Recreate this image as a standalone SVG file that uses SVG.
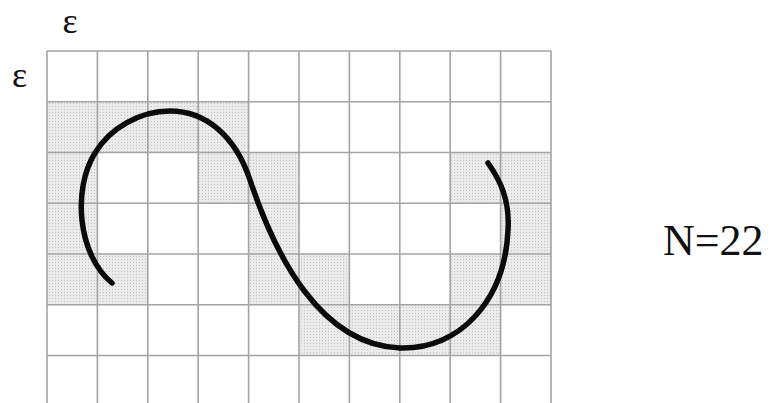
<svg xmlns="http://www.w3.org/2000/svg" width="770" height="403" viewBox="0 0 770 403">
<style>
.cell{fill:url(#dots)}
.grid{stroke:#a4a4a4;stroke-width:1.6;fill:none}
.lbl{font-family:"Liberation Serif","DejaVu Serif",serif;fill:#111}
.curve{fill:none;stroke:#0a0a0a;stroke-width:5.5;stroke-linecap:round}
</style>
<defs>
<pattern id="dots" width="3" height="3" patternUnits="userSpaceOnUse">
<rect width="3" height="3" fill="#ebebeb"/>
<rect x="1" y="1" width="1" height="1" fill="#c4c4c4"/>
</pattern>
</defs>
<rect width="770" height="403" fill="#fff"/>
<g id="shaded">
<rect class="cell" x="47" y="101.75" width="50.4" height="50.75"/>
<rect class="cell" x="97.4" y="101.75" width="50.4" height="50.75"/>
<rect class="cell" x="147.8" y="101.75" width="50.4" height="50.75"/>
<rect class="cell" x="198.2" y="101.75" width="50.4" height="50.75"/>
<rect class="cell" x="47" y="152.5" width="50.4" height="50.75"/>
<rect class="cell" x="198.2" y="152.5" width="50.4" height="50.75"/>
<rect class="cell" x="248.6" y="152.5" width="50.4" height="50.75"/>
<rect class="cell" x="450.2" y="152.5" width="50.4" height="50.75"/>
<rect class="cell" x="500.6" y="152.5" width="50.4" height="50.75"/>
<rect class="cell" x="47" y="203.25" width="50.4" height="50.75"/>
<rect class="cell" x="248.6" y="203.25" width="50.4" height="50.75"/>
<rect class="cell" x="500.6" y="203.25" width="50.4" height="50.75"/>
<rect class="cell" x="47" y="254" width="50.4" height="50.75"/>
<rect class="cell" x="97.4" y="254" width="50.4" height="50.75"/>
<rect class="cell" x="248.6" y="254" width="50.4" height="50.75"/>
<rect class="cell" x="299" y="254" width="50.4" height="50.75"/>
<rect class="cell" x="450.2" y="254" width="50.4" height="50.75"/>
<rect class="cell" x="500.6" y="254" width="50.4" height="50.75"/>
<rect class="cell" x="299" y="304.75" width="50.4" height="50.75"/>
<rect class="cell" x="349.4" y="304.75" width="50.4" height="50.75"/>
<rect class="cell" x="399.8" y="304.75" width="50.4" height="50.75"/>
<rect class="cell" x="450.2" y="304.75" width="50.4" height="50.75"/>
</g>
<g id="grid" class="grid">
<path d="M47 51V403M97.4 51V403M147.8 51V403M198.2 51V403M248.6 51V403M299 51V403M349.4 51V403M399.8 51V403M450.2 51V403M500.6 51V403M551 51V403"/>
<path d="M47 51H551M47 101.75H551M47 152.5H551M47 203.25H551M47 254H551M47 304.75H551M47 355.5H551"/>
</g>
<g id="curve">
<path class="curve" d="M112 283C78 255 72 190 95 153C110 128 140 111 170 111C205 111 235 135 250 180C275 255 320 345 400 348C460 350 505 300 508 230C510 200 500 180 488 163"/>
</g>
<g id="labels">
<text class="lbl" x="70" y="33" font-size="36" text-anchor="middle">ε</text>
<text class="lbl" x="19.5" y="87" font-size="36" text-anchor="middle">ε</text>
<text class="lbl" x="663" y="255" font-size="44">N=22</text>
</g>
</svg>
